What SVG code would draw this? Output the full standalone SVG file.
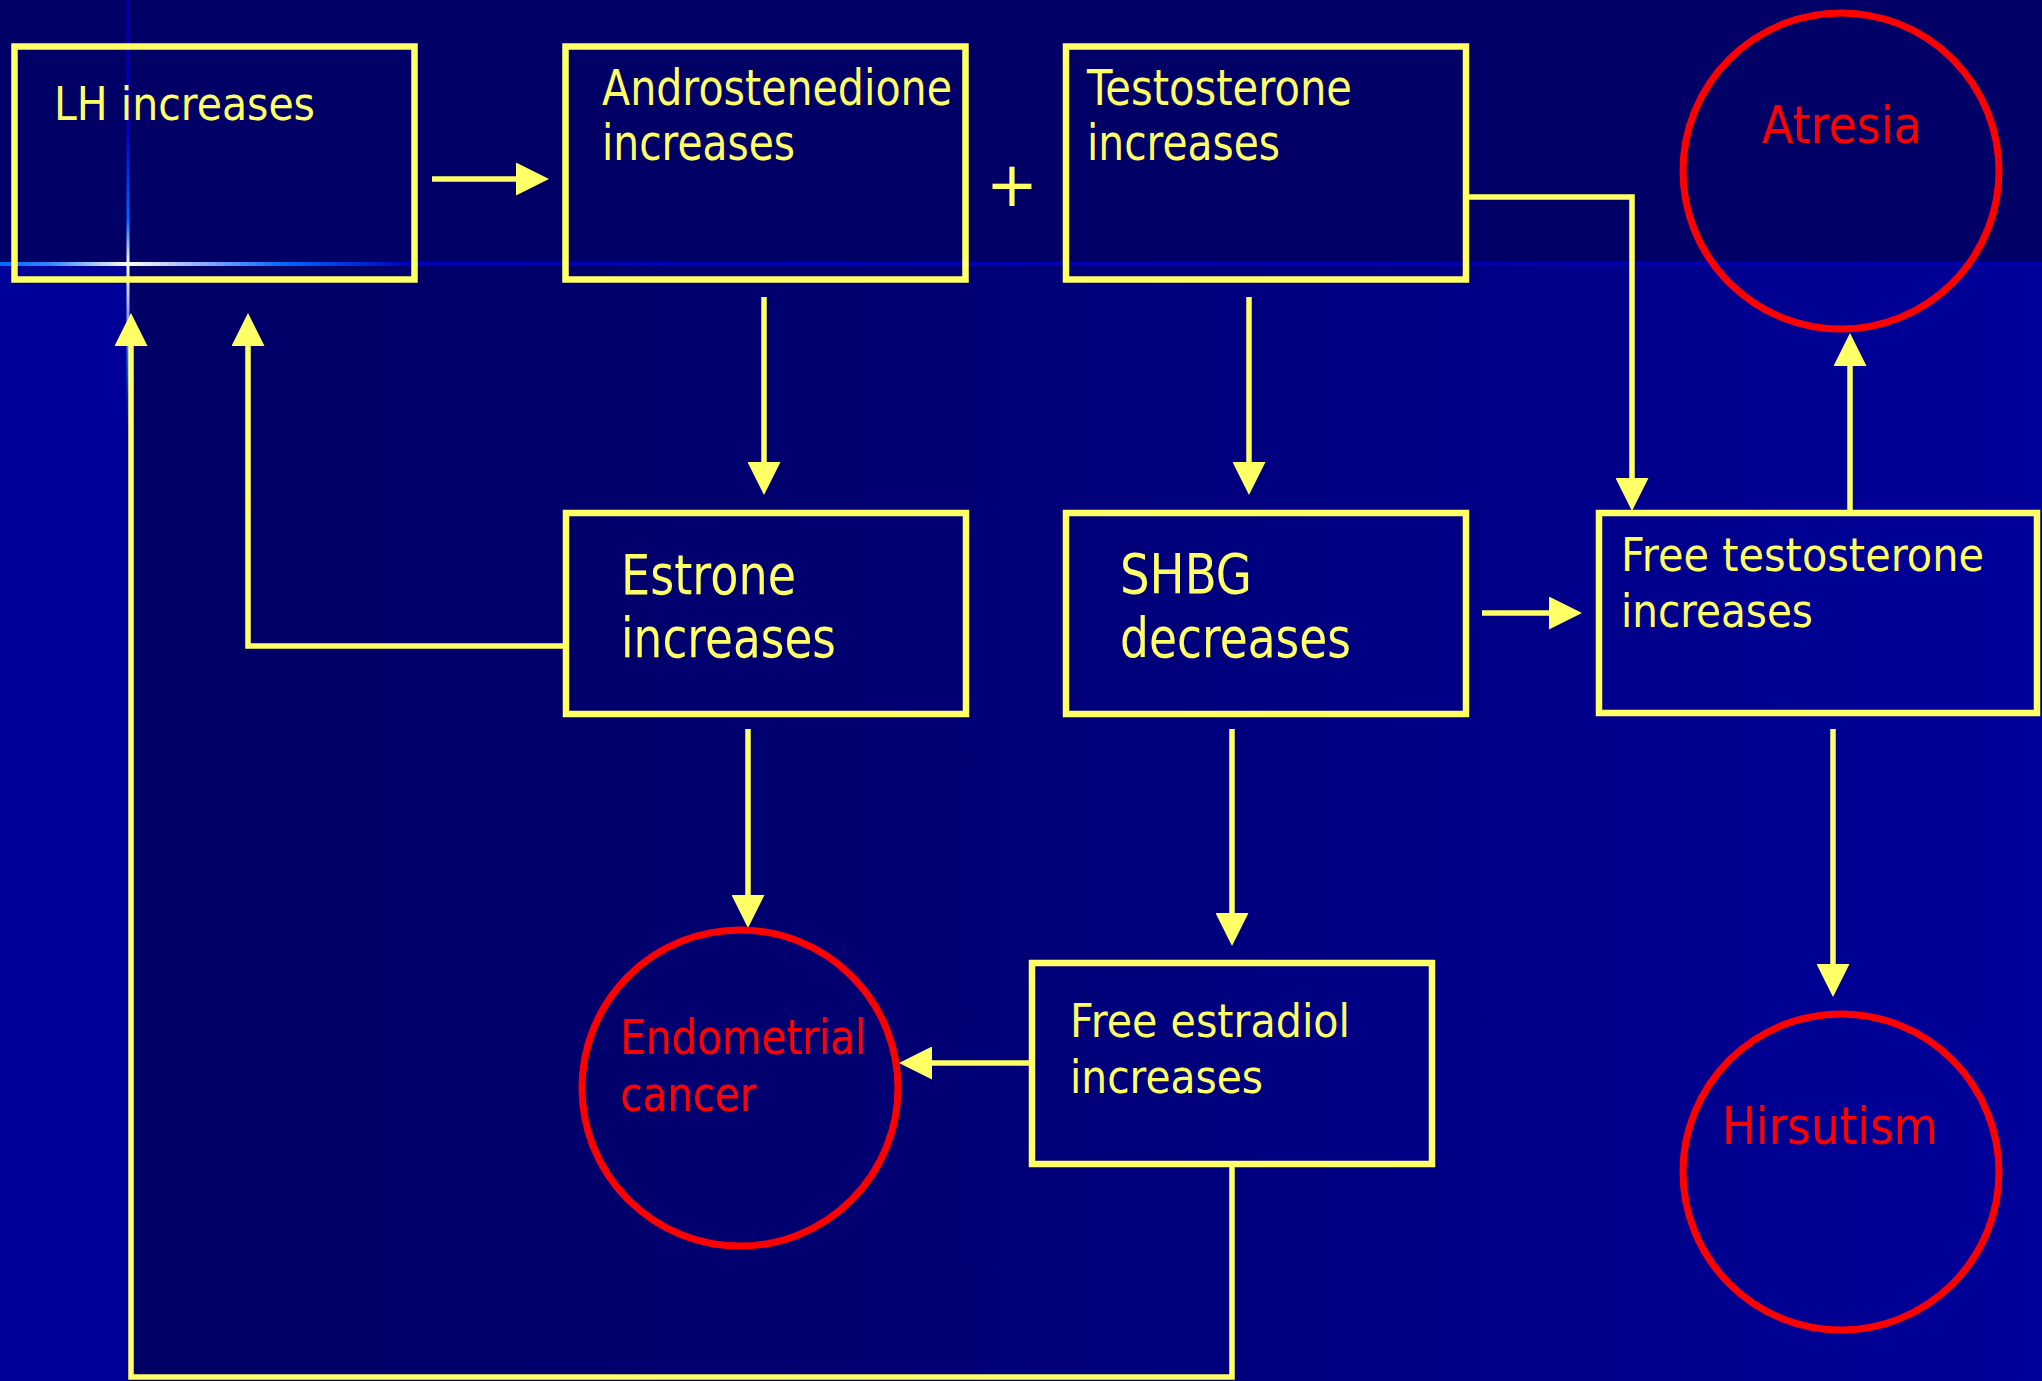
<svg xmlns="http://www.w3.org/2000/svg" width="2042" height="1381" viewBox="0 0 2042 1381">
<defs>
<style>
.box{fill:none;stroke:#FFFF66;stroke-width:6.5}
.ring{fill:none;stroke:#FF0000;stroke-width:7}
.ln{fill:none;stroke:#FFFF66;stroke-width:5.5}
.arr{marker-end:url(#ah)}
.ty{fill:#FFFF66;font-family:"DejaVu Sans","Liberation Sans",sans-serif}
.tr{fill:#FF0000;font-family:"DejaVu Sans","Liberation Sans",sans-serif}
</style>
<marker id="ah" viewBox="0 0 33 33" refX="0" refY="16.5" markerWidth="33" markerHeight="33" markerUnits="userSpaceOnUse" orient="auto">
<path d="M0,0 L33,16.5 L0,33 Z" fill="#FFFF66"/>
</marker>
<linearGradient id="bg" x1="0" y1="0" x2="1" y2="0">
<stop offset="0" stop-color="#000066"/>
<stop offset="0.35" stop-color="#000070"/>
<stop offset="1" stop-color="#00009A"/>
</linearGradient>
<linearGradient id="gh" x1="0" y1="0" x2="2042" y2="0" gradientUnits="userSpaceOnUse">
<stop offset="0" stop-color="#0066FF"/>
<stop offset="0.025" stop-color="#3388FF"/>
<stop offset="0.063" stop-color="#FFFFF0"/>
<stop offset="0.1" stop-color="#88AAFF"/>
<stop offset="0.14" stop-color="#0066FF"/>
<stop offset="0.2" stop-color="#0000BB"/>
<stop offset="1" stop-color="#0000A8"/>
</linearGradient>
<linearGradient id="gv" x1="0" y1="0" x2="0" y2="440" gradientUnits="userSpaceOnUse">
<stop offset="0" stop-color="#0000AA"/>
<stop offset="0.3" stop-color="#0000CC"/>
<stop offset="0.5" stop-color="#0066FF"/>
<stop offset="0.6" stop-color="#FFFFF0"/>
<stop offset="0.72" stop-color="#8899FF"/>
<stop offset="0.85" stop-color="#0055EE"/>
<stop offset="1" stop-color="#000077" stop-opacity="0"/>
</linearGradient>
</defs>

<g id="background">
<rect x="0" y="0" width="2042" height="1381" fill="#000099"/>
<rect x="128" y="264" width="1914" height="1117" fill="url(#bg)"/>
<rect x="0" y="0" width="2042" height="264" fill="#000066"/>
<rect x="0" y="262" width="2042" height="4" fill="url(#gh)"/>
<rect x="126.5" y="0" width="3" height="440" fill="url(#gv)"/>
</g>

<g id="connectors">
<line class="ln arr" x1="432" y1="179" x2="516" y2="179"/>
<line class="ln arr" x1="764" y1="297" x2="764" y2="462"/>
<line class="ln arr" x1="1249" y1="297" x2="1249" y2="462"/>
<polyline class="ln arr" points="1466,197 1632,197 1632,478"/>
<line class="ln arr" x1="1482" y1="613" x2="1549" y2="613"/>
<line class="ln arr" x1="1850" y1="513" x2="1850" y2="366"/>
<polyline class="ln arr" points="566,646 248,646 248,346"/>
<line class="ln arr" x1="748" y1="729" x2="748" y2="895"/>
<line class="ln arr" x1="1232" y1="729" x2="1232" y2="913"/>
<line class="ln arr" x1="1032" y1="1063" x2="932" y2="1063"/>
<line class="ln arr" x1="1833" y1="729" x2="1833" y2="964"/>
<polyline class="ln arr" points="1232,1164 1232,1377 131,1377 131,346"/>
</g>

<g id="n-lh">
<rect class="box" x="14.5" y="46.5" width="400" height="233"/>
<text class="ty" x="54" y="120" font-size="47" textLength="261" lengthAdjust="spacingAndGlyphs">LH increases</text>
</g>

<g id="n-andro">
<rect class="box" x="565.5" y="46.5" width="400" height="233"/>
<text class="ty" x="602" y="105" font-size="49" textLength="350" lengthAdjust="spacingAndGlyphs">Androstenedione</text>
<text class="ty" x="602" y="160" font-size="49" textLength="193" lengthAdjust="spacingAndGlyphs">increases</text>
</g>

<text id="plus" class="ty" x="1012" y="206" font-size="62" text-anchor="middle">+</text>

<g id="n-testo">
<rect class="box" x="1066" y="46.5" width="400" height="233"/>
<text class="ty" x="1087" y="105" font-size="49" textLength="265" lengthAdjust="spacingAndGlyphs">Testosterone</text>
<text class="ty" x="1087" y="160" font-size="49" textLength="193" lengthAdjust="spacingAndGlyphs">increases</text>
</g>

<g id="n-atresia">
<circle class="ring" cx="1841" cy="171" r="158"/>
<text class="tr" x="1762" y="143" font-size="52" textLength="160" lengthAdjust="spacingAndGlyphs">Atresia</text>
</g>

<g id="n-estrone">
<rect class="box" x="566" y="513" width="400" height="201"/>
<text class="ty" x="621" y="594" font-size="56" textLength="175" lengthAdjust="spacingAndGlyphs">Estrone</text>
<text class="ty" x="621" y="657" font-size="56" textLength="215" lengthAdjust="spacingAndGlyphs">increases</text>
</g>

<g id="n-shbg">
<rect class="box" x="1066" y="513" width="400" height="201"/>
<text class="ty" x="1120" y="593" font-size="56" textLength="132" lengthAdjust="spacingAndGlyphs">SHBG</text>
<text class="ty" x="1120" y="657" font-size="56" textLength="231" lengthAdjust="spacingAndGlyphs">decreases</text>
</g>

<g id="n-freetesto">
<rect class="box" x="1599" y="513" width="438" height="200"/>
<text class="ty" x="1621" y="571" font-size="47" textLength="363" lengthAdjust="spacingAndGlyphs">Free testosterone</text>
<text class="ty" x="1621" y="627" font-size="47" textLength="192" lengthAdjust="spacingAndGlyphs">increases</text>
</g>

<g id="n-endometrial">
<circle class="ring" cx="740" cy="1088" r="158"/>
<text class="tr" x="620" y="1054" font-size="48" textLength="246" lengthAdjust="spacingAndGlyphs">Endometrial</text>
<text class="tr" x="620" y="1111" font-size="48" textLength="136" lengthAdjust="spacingAndGlyphs">cancer</text>
</g>

<g id="n-freeestradiol">
<rect class="box" x="1032" y="963" width="400" height="201"/>
<text class="ty" x="1070" y="1037" font-size="47" textLength="280" lengthAdjust="spacingAndGlyphs">Free estradiol</text>
<text class="ty" x="1070" y="1093" font-size="47" textLength="193" lengthAdjust="spacingAndGlyphs">increases</text>
</g>

<g id="n-hirsutism">
<circle class="ring" cx="1841" cy="1172" r="158"/>
<text class="tr" x="1722" y="1144" font-size="52" textLength="216" lengthAdjust="spacingAndGlyphs">Hirsutism</text>
</g>
</svg>
